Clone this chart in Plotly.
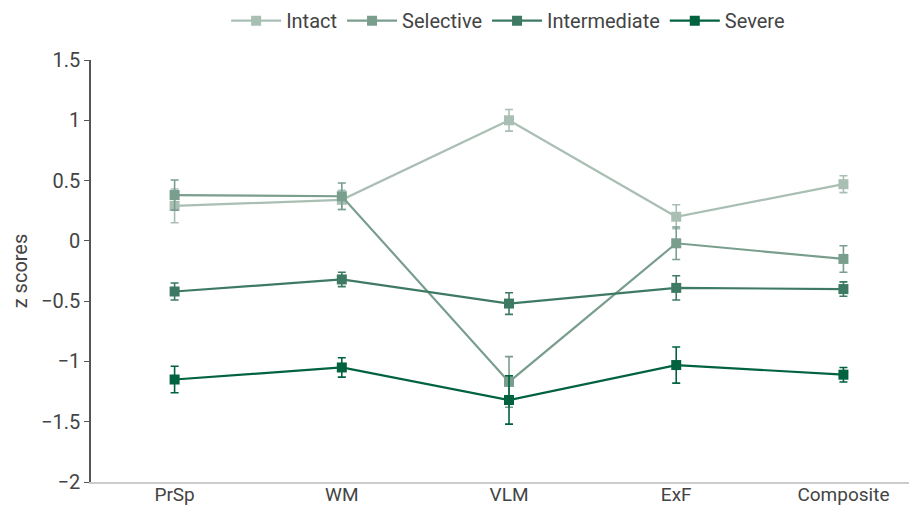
import plotly.graph_objects as go

categories = ["PrSp", "WM", "VLM", "ExF", "Composite"]

intact = [0.29, 0.34, 1.00, 0.20, 0.47]
intact_err = [0.14, 0.08, 0.09, 0.10, 0.07]

selective = [0.38, 0.37, -1.17, -0.02, -0.15]
selective_err = [0.125, 0.11, 0.21, 0.135, 0.11]

intermediate = [-0.42, -0.32, -0.52, -0.39, -0.40]
intermediate_err = [0.07, 0.06, 0.09, 0.10, 0.06]

severe = [-1.15, -1.05, -1.32, -1.03, -1.11]
severe_err = [0.11, 0.08, 0.20, 0.15, 0.06]

series = [
    ("Intact", intact, intact_err, "#a9bfb4"),
    ("Selective", selective, selective_err, "#7a9e8e"),
    ("Intermediate", intermediate, intermediate_err, "#3e7a63"),
    ("Severe", severe, severe_err, "#00623f"),
]

fig = go.Figure()
for name, vals, errs, color in series:
    fig.add_trace(go.Scatter(
        x=list(range(len(categories))), y=vals, name=name,
        mode="lines+markers",
        line=dict(color=color, width=2.2),
        marker=dict(symbol="square", size=10, color=color),
        error_y=dict(type="data", array=errs, visible=True, color=color,
                     thickness=1.6, width=4),
    ))

# page has an 8px body margin: figure drawn at (8, 8)
fig.update_layout(
    width=909, height=500,
    margin=dict(l=83, r=0, t=52, b=26, autoexpand=False),
    paper_bgcolor="white", plot_bgcolor="white",
    font=dict(family="Roboto, Liberation Sans, sans-serif", size=20, color="#444444"),
    showlegend=True,
    legend=dict(orientation="h", x=0.505, xanchor="center", y=1.047, yanchor="bottom",
                font=dict(size=20, color="#444444"), tracegroupgap=0, itemwidth=50),
    hovermode=False,
)
fig.update_xaxes(
    tickmode="array", tickvals=list(range(len(categories))), ticktext=categories,
    range=[-0.5, 4.44], showline=True, linecolor="#cccccc", linewidth=1.5,
    showgrid=False, zeroline=False, ticks="", tickfont=dict(size=19),
    automargin=False, ticklabelstandoff=-6,
)
fig.update_yaxes(
    range=[-2, 1.5], tickvals=[-2, -1.5, -1, -0.5, 0, 0.5, 1, 1.5],
    ticktext=["\u22122", "\u22121.5", "\u22121", "\u22120.5", "0", "0.5", "1", "1.5"],
    showline=True, linecolor="#555555", linewidth=1.5, ticks="outside", ticklen=5,
    tickcolor="#555555", showgrid=False, zeroline=False,
    title=dict(text="z scores", font=dict(size=20), standoff=16),
    tickfont=dict(size=20), automargin=False,
)

fig.write_html("out.html")
